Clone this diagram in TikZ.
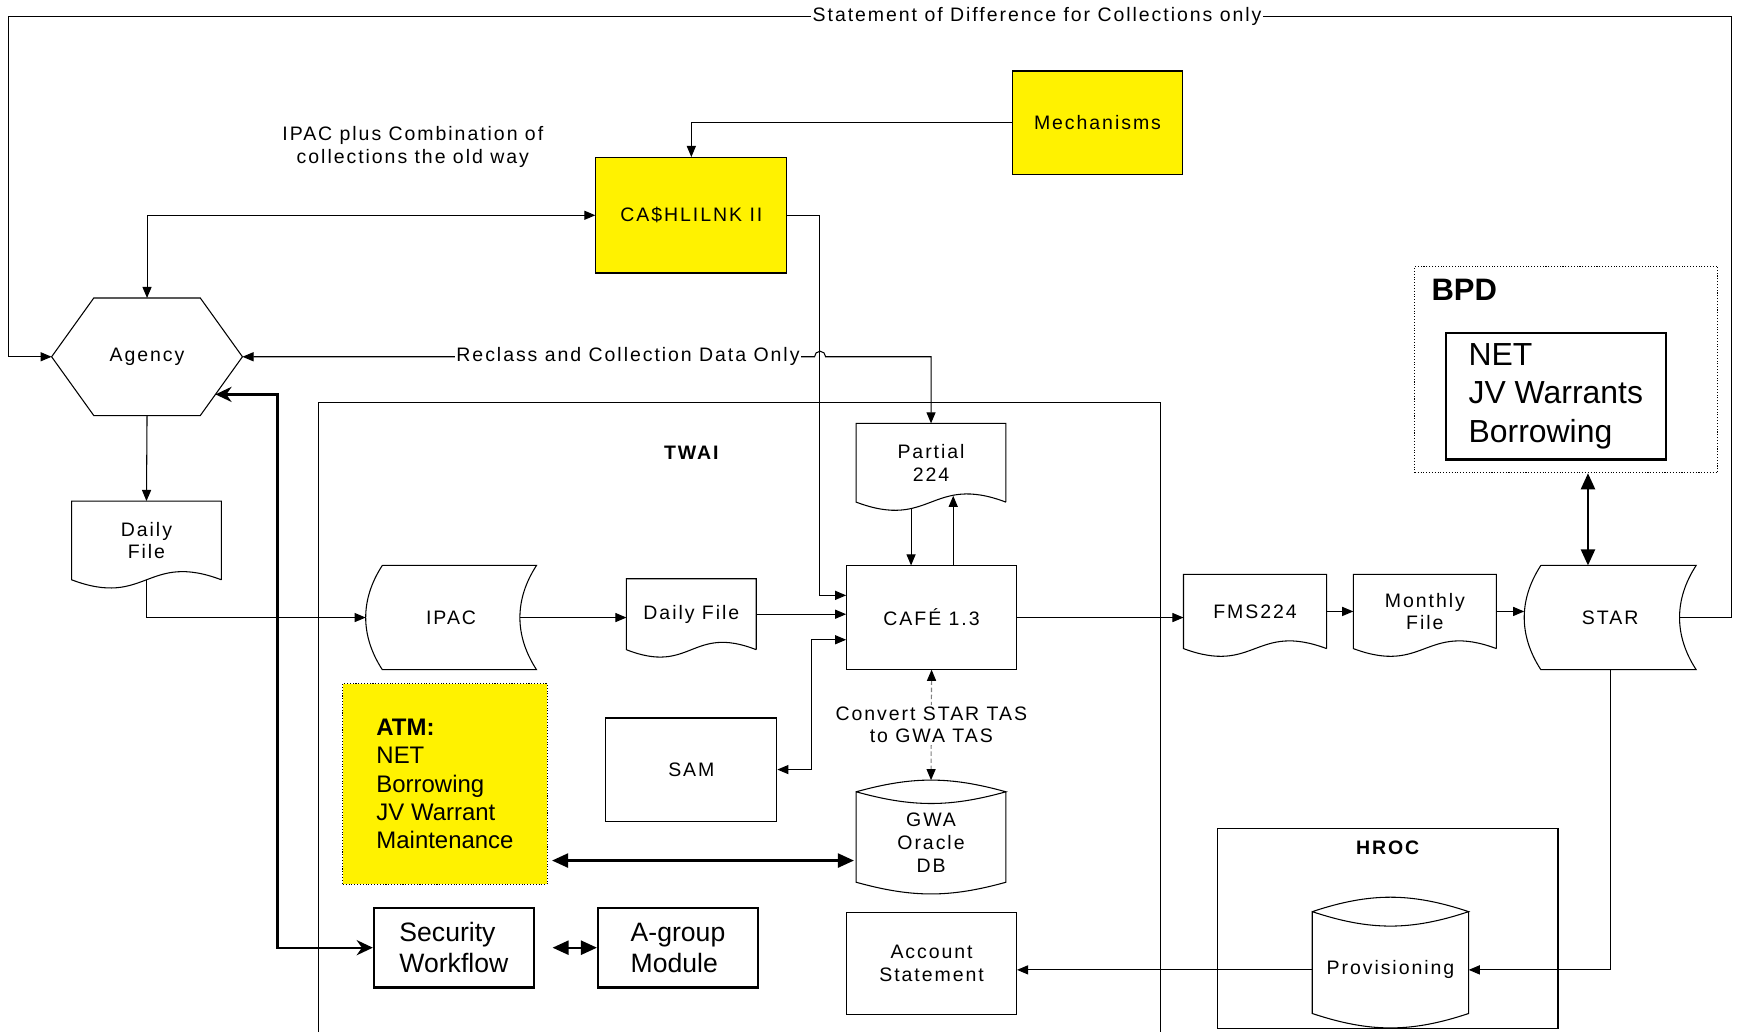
\documentclass[tikz,border=0pt]{standalone}
\usepackage{fontspec}
\setmainfont{Liberation Sans}
\newfontfamily\visfont[LetterSpace=10]{Liberation Sans}
\usetikzlibrary{arrows.meta,calc}

\newcommand\px{0.022cm}
\newcommand\fstd{\visfont\fontsize{11}{12.8}\selectfont}
\newcommand\fatm{\normalfont\fontsize{13.5}{16}\selectfont}
\newcommand\fsec{\normalfont\fontsize{15}{17.5}\selectfont}
\newcommand\fbpd{\normalfont\fontsize{18}{21.8}\selectfont}

\newcommand\docframe[1]{\draw (#1.south east) -- (#1.north east) -- (#1.north west) -- (#1.south west)
  .. controls ($(#1.south)!-0.36!(#1.north)$) and ($(#1.south)!0.36!(#1.north)$) .. (#1.south east);}
\newcommand\storedframe[1]{\draw ([xshift=0.33cm]#1.north west) -- (#1.north east) to[bend right=33] (#1.south east)
  -- ([xshift=0.33cm]#1.south west) to[bend left=33] ([xshift=0.33cm]#1.north west);}
\newcommand\dbframe[3]{\draw (#1.north west) to[bend left=#2] (#1.north east) to[bend left=#2] (#1.north west)
  -- ([yshift=#3]#1.south west) to[bend right=#2] ([yshift=#3]#1.south east) -- (#1.north east);}

\tikzset{
  frm/.style={inner sep=0pt, align=center},
  box/.style={frm, draw},
  ybox/.style={box, fill=yellow},
  bbox/.style={draw, line width=1.3pt, inner sep=0pt, align=left, font=\fsec},
  lbl/.style={fill=white, text=black, inner sep=1pt, align=center},
  arr/.style={-{Triangle[length=2.2mm,width=1.8mm]}},
  arrs/.style={{Triangle[length=2.2mm,width=1.8mm]}-{Triangle[length=2.2mm,width=1.8mm]}},
  conv/.style={gray, dash pattern=on 2.5pt off 1.5pt,
    {Triangle[length=2.2mm,width=1.8mm,black]}-{Triangle[length=2.2mm,width=1.8mm,black]}},
  fat/.style={line width=1.3pt, {Triangle[length=3.2mm,width=2.8mm]}-{Triangle[length=3.2mm,width=2.8mm]}},
  fatst/.style={line width=1.3pt, {Stealth[length=3.2mm,width=3mm]}-{Stealth[length=3.2mm,width=3mm]}},
}

\begin{document}
\begin{tikzpicture}[x=0.022cm, y=-0.022cm, line width=0.6pt, font=\fstd]
  \useasboundingbox (0,0) rectangle (1568,930);

  \draw (287,930) |- (1046,363) -- (1046,930);
  \node[font=\fstd\bfseries] (twai) at (623,408) {TWAI};
  \node[draw, densely dotted, minimum width=273*\px, minimum height=186*\px,
    label={[anchor=north west, inner sep=0pt, font=\normalfont\bfseries\fontsize{17.5}{20}\selectfont, xshift=15*\px, yshift=-12*\px]north west:BPD}] (bpd) at (1411.5,333) {};
  \node[draw, minimum width=307*\px, minimum height=180*\px,
    label={[anchor=north, inner sep=0pt, font=\fstd\bfseries, yshift=-11*\px]north:HROC}] (hroc) at (1250.5,837) {};

  \node[frm, minimum width=171*\px, minimum height=105*\px] (agency) at (132.5,321.5) {Agency};
  \draw (agency.west) -- ([xshift=38*\px]agency.north west) -- ([xshift=-38*\px]agency.north east) -- (agency.east)
    -- ([xshift=-38*\px]agency.south east) -- ([xshift=38*\px]agency.south west) -- cycle;
  \node[align=center] (note) at (372,132.5) {IPAC plus Combination of\\collections the old way};
  \node[ybox, minimum width=172*\px, minimum height=104*\px] (cash) at (623,194) {CA\$HLILNK II};
  \node[ybox, minimum width=154*\px, minimum height=93*\px] (mech) at (989,110.5) {Mechanisms};

  \node[frm, minimum width=134*\px, minimum height=70*\px] (dfa) at (132,487) {Daily\\File};
  \node[frm, minimum width=134*\px, minimum height=70*\px] (part) at (839,417) {Partial\\224};
  \node[frm, minimum width=116*\px, minimum height=63*\px] (dfi) at (623,553.5) {Daily File};
  \node[frm, minimum width=128*\px, minimum height=66*\px] (fms) at (1131,551) {FMS224};
  \node[frm, minimum width=128*\px, minimum height=66*\px] (mon) at (1284,551) {Monthly\\File};
  \foreach \n in {dfa,part,dfi,fms,mon} {\docframe{\n}}

  \node[frm, minimum width=153*\px, minimum height=93*\px] (ipac) at (406.5,556.5) {IPAC};
  \node[frm, minimum width=154*\px, minimum height=93*\px] (star) at (1451,556.5) {STAR};
  \storedframe{ipac}
  \storedframe{star}

  \node[box, minimum width=153*\px, minimum height=93*\px] (cafe) at (839.5,556.5) {CAFÉ 1.3};
  \node[box, minimum width=154*\px, minimum height=93*\px] (sam) at (623,693.5) {SAM};
  \node[frm, minimum width=134*\px, minimum height=91*\px] (gwa) at (839,759.5) {GWA\\Oracle\\DB};
  \dbframe{gwa}{15.5}{0.23cm}
  \node[box, minimum width=153*\px, minimum height=92*\px] (acct) at (839.5,868) {Account\\Statement};
  \node[frm, minimum width=140*\px, minimum height=104*\px] (prov) at (1253,874) {Provisioning};
  \dbframe{prov}{18.4}{0.29cm}

  \node[ybox, densely dotted, minimum width=184*\px, minimum height=181*\px, align=left, font=\fatm] (atm) at (401,706.5)
    {\textbf{ATM:}\\NET\\Borrowing\\JV Warrant\\Maintenance};
  \node[bbox, minimum width=144*\px, minimum height=72*\px] (sec) at (409,854) {Security\\Workflow};
  \node[bbox, minimum width=144*\px, minimum height=72*\px] (agm) at (611,854) {A-group\\Module};
  \node[bbox, minimum width=198*\px, minimum height=114*\px, font=\fbpd] (bpdin) at (1402,357) {NET\\JV Warrants\\Borrowing};

  \draw[arr] ([xshift=-0.33cm]star.east) -| (1560,15)
    -- node[lbl, pos=0.403] {Statement of Difference for Collections only} (8,15) |- (agency.west);
  \draw[arrs] (agency.north) |- (cash.west);
  \draw[arr] (mech.west) -| (cash.north);
  \draw[arr] (cash.east) -| ($(cafe.west)+(-24,-20)$) -- ($(cafe.west)+(0,-20)$);
  \draw[arrs] (agency.east) -- node[lbl, pos=0.674] {Reclass and Collection Data Only} (734,321.5)
    arc[start angle=180, end angle=0, radius=0.11cm] -| (part.north);
  \draw[arr] (agency.south) -- (dfa.north);
  \draw[arr] (dfa.south) |- (ipac.west);
  \draw[arr] ([xshift=-0.33cm]ipac.east) -- (ipac.east -| dfi.west);
  \draw[arr] (dfi.east) -- (dfi.east -| cafe.west);
  \draw[arr] ($(part.south)+(-18,5.7)$) -- ($(part.south |- cafe.north)+(-18,0)$);
  \draw[arr] ($(part.south |- cafe.north)+(20,0)$) -- ($(part.south)+(20,-5.7)$);
  \draw[arrs] ($(cafe.west)+(0,20)$) -| ($(sam.east)+(31,0)$) -- (sam.east);
  \draw[conv] (cafe.south) -- node[lbl] {Convert STAR TAS\\to GWA TAS} ($(gwa.north)+(0,-10.5)$);
  \draw[arr] (cafe.east) -- (cafe.east -| fms.west);
  \draw[arr] (fms.east) -- (mon.west);
  \draw[arr] (mon.east) -- (mon.east -| star.west);
  \draw[fat] ($(bpd.south)+(19.5,0)$) -- ($(star.north)+(-20,0)$);
  \draw[arr] (star.south) |- (prov.east);
  \draw[arr] (prov.west) -- (prov.west -| acct.east);
  \draw[fat] ($(atm.south east)+(4,-22)$) -- ($(atm.south east -| gwa.west)+(-2,-22)$);
  \coordinate (agbr) at ([xshift=-38*\px]agency.south east);
  \draw[fatst] ($(agency.east)!0.64!(agbr)$) -- ++(56,0) |- (sec.west);
  \draw[fat, shorten <=0.35cm] (sec.east) -- (agm.west);
\end{tikzpicture}
\end{document}
